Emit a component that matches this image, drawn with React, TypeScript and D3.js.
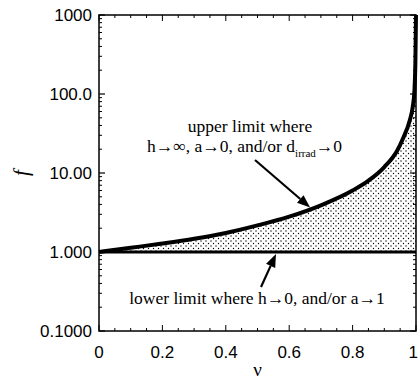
import React from "react";
import * as d3 from "d3";

const nuValues = [0, 0.1, 0.2, 0.3, 0.4, 0.5, 0.6, 0.7, 0.8, 0.85, 0.9, 0.94, 0.96, 0.98, 0.99, 0.995, 0.998, 1];
const upperF = [1, 1.13, 1.28, 1.47, 1.74, 2.17, 2.8, 3.9, 6.0, 8.0, 11.9, 19, 28, 46, 70, 110, 250, 1000];
const lowerF = 1;
const yTickValues = [0.1, 1, 10, 100, 1000];
const yTickLabels = ["0.1000", "1.000", "10.00", "100.0", "1000"];
const xTickValues = [0, 0.2, 0.4, 0.6, 0.8, 1];
const xTickLabels = ["0", "0.2", "0.4", "0.6", "0.8", "1"];

const W = 419, H = 379;
const L = 99, R = 416, T = 15, B = 331;

export default function App() {
  const x = d3.scaleLinear().domain([0, 1]).range([L, R]);
  const y = d3.scaleLog().domain([0.1, 1000]).range([B, T]);
  const pts = nuValues.map((n, i) => ({ n, f: upperF[i] }));
  const line = d3.line<{ n: number; f: number }>().x(d => x(d.n)).y(d => y(d.f)).curve(d3.curveMonotoneX);
  const area = d3.area<{ n: number; f: number }>().x(d => x(d.n)).y0(y(lowerF)).y1(d => y(d.f)).curve(d3.curveMonotoneX);

  const minorY: number[] = [];
  for (let e = -1; e < 3; e++) for (let k = 2; k <= 9; k++) minorY.push(k * Math.pow(10, e));
  const minorX = d3.range(0, 1.0001, 0.05).map(v => +v.toFixed(2));

  const sans = "'Liberation Sans', Arial, sans-serif";
  const serif = "'Liberation Serif', 'Times New Roman', serif";

  const arrow = (x1: number, y1: number, x2: number, y2: number, key: string) => {
    const ang = Math.atan2(y2 - y1, x2 - x1);
    const len = 13, wid = 5;
    const bx = x2 - len * Math.cos(ang), by = y2 - len * Math.sin(ang);
    const px = -Math.sin(ang) * wid, py = Math.cos(ang) * wid;
    return (
      <g key={key}>
        <line x1={x1} y1={y1} x2={bx} y2={by} stroke="#000" strokeWidth={2.2} />
        <polygon points={`${x2},${y2} ${bx + px},${by + py} ${bx - px},${by - py}`} fill="#000" />
      </g>
    );
  };

  return (
    <svg width={W} height={H} style={{ position: "absolute", left: 0, top: 0, background: "#fff" }}>
      <defs>
        <pattern id="dots" width="5" height="5" patternUnits="userSpaceOnUse">
          <rect width="5" height="5" fill="#fff" />
          <circle cx="1" cy="1" r="0.7" fill="#000" />
          <circle cx="3.5" cy="3.5" r="0.7" fill="#000" />
        </pattern>
      </defs>
      <path d={area(pts) || ""} fill="url(#dots)" />
      {/* frame */}
      <rect x={L} y={T} width={R - L} height={B - T} fill="none" stroke="#000" strokeWidth={1.5} />
      {/* y ticks */}
      {yTickValues.map(v => (
        <g key={"yt" + v}>
          <line x1={L} x2={L + 6} y1={y(v)} y2={y(v)} stroke="#000" strokeWidth={1.2} />
          <line x1={R} x2={R - 6} y1={y(v)} y2={y(v)} stroke="#000" strokeWidth={1.2} />
        </g>
      ))}
      {minorY.map(v => (
        <g key={"ym" + v}>
          <line x1={L} x2={L + 3} y1={y(v)} y2={y(v)} stroke="#000" strokeWidth={1} />
          <line x1={R} x2={R - 3} y1={y(v)} y2={y(v)} stroke="#000" strokeWidth={1} />
        </g>
      ))}
      {minorX.map(v => {
        const major = Math.abs(v * 5 - Math.round(v * 5)) < 1e-6;
        const len = major ? 6 : 3;
        return (
          <g key={"xm" + v}>
            <line x1={x(v)} x2={x(v)} y1={B} y2={B - len} stroke="#000" strokeWidth={1} />
            <line x1={x(v)} x2={x(v)} y1={T} y2={T + len} stroke="#000" strokeWidth={1} />
          </g>
        );
      })}
      {/* lower limit */}
      <line x1={x(0)} x2={x(1)} y1={y(lowerF)} y2={y(lowerF)} stroke="#000" strokeWidth={3} />
      {/* upper limit */}
      <path d={line(pts) || ""} fill="none" stroke="#000" strokeWidth={4} strokeLinejoin="round" />
      {/* tick labels */}
      {yTickValues.map((v, i) => (
        <text key={"yl" + v} x={L - 7} y={y(v) + 6} textAnchor="end" fontFamily={sans} fontSize={17}>{yTickLabels[i]}</text>
      ))}
      {xTickValues.map((v, i) => {
        const last = i === xTickValues.length - 1;
        return (
          <text key={"xl" + v} x={last ? W - 1 : x(v)} y={358} textAnchor={last ? "end" : "middle"} fontFamily={sans} fontSize={17}>{xTickLabels[i]}</text>
        );
      })}
      <text x={x(0.5)} y={376} textAnchor="middle" fontFamily={serif} fontSize={19}>ν</text>
      <text transform={`translate(28,${y(10)}) rotate(-90)`} textAnchor="middle" fontFamily={serif} fontStyle="italic" fontSize={21}>f</text>
      {/* annotations */}
      <text x={250} y={132} textAnchor="middle" fontFamily={serif} fontSize={17.5}>upper limit where</text>
      <text x={147} y={152} fontFamily={serif} fontSize={17.5}>
        h→∞, a→0, and/or d<tspan fontSize={11} dy={5}>irrad</tspan><tspan dy={-5}>→0</tspan>
      </text>
      {arrow(255, 160, x(0.666), y(3.45) - 2, "a1")}
      <text x={257} y={304} textAnchor="middle" fontFamily={serif} fontSize={17.5}>lower limit where h→0, and/or a→1</text>
      {arrow(261, 287, 276, y(lowerF) + 2, "a2")}
    </svg>
  );
}
